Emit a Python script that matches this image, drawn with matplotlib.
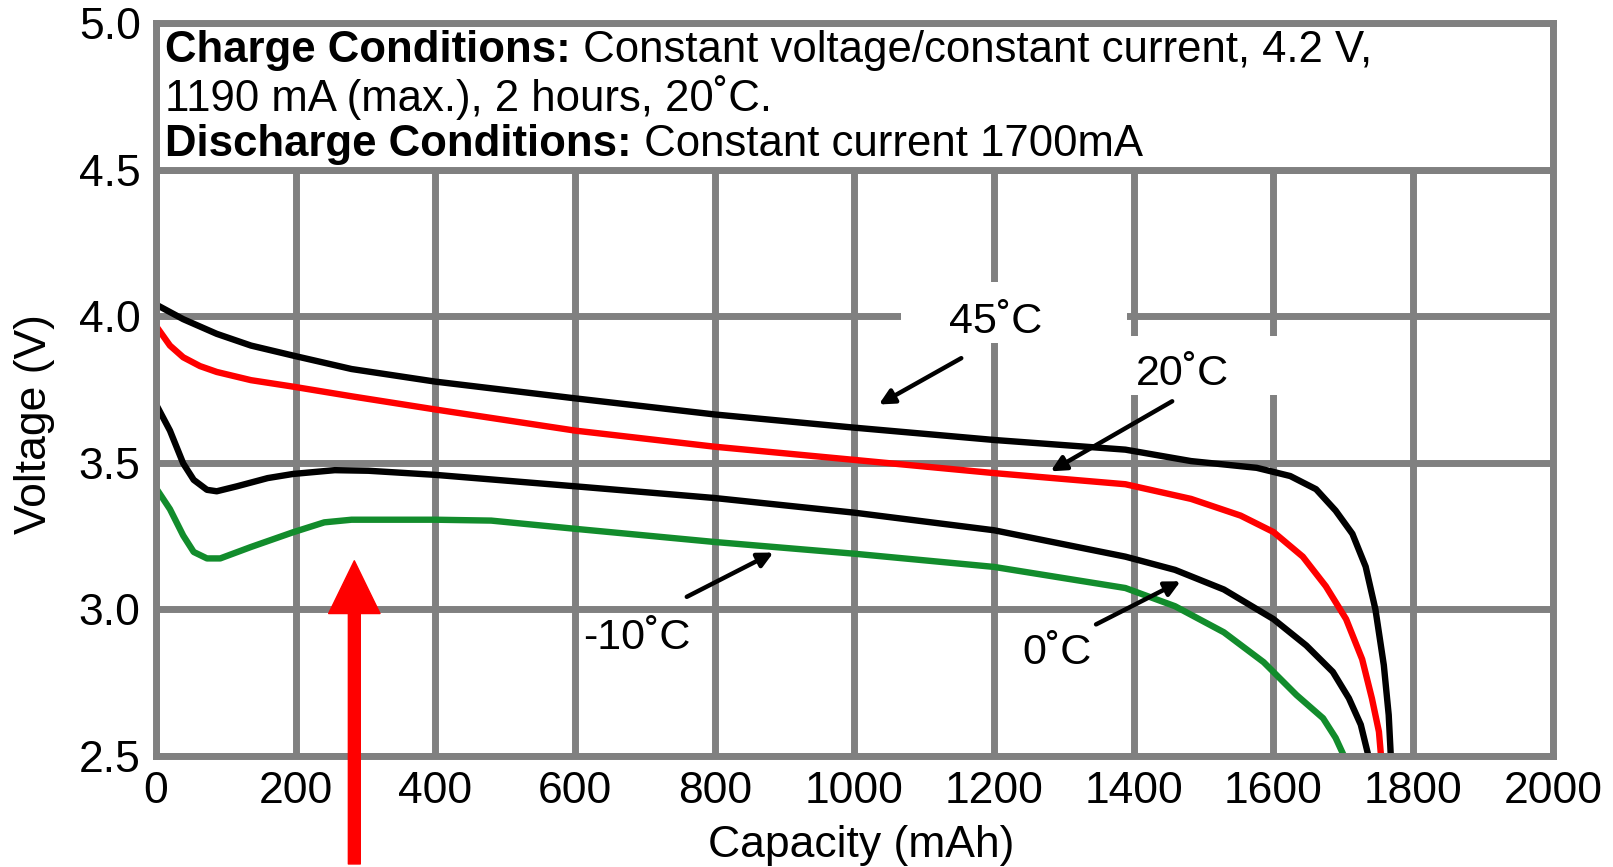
import matplotlib
matplotlib.use("Agg")
import matplotlib.pyplot as plt
from matplotlib.patches import Rectangle

plt.rcParams["font.family"] = ["Liberation Sans", "DejaVu Sans"]

GRID = "#808080"
GREEN = "#128c2c"

# ── Discharge curves: capacity (mAh) vs voltage (V) ───────────────────────────

cap_45 = [0, 39, 87, 136, 196, 280, 400, 600, 800, 1000, 1200, 1388, 1482,
          1576, 1624, 1661, 1689, 1713, 1732, 1746, 1758, 1765, 1768]
v_45 = [4.04, 3.99, 3.94, 3.90, 3.866, 3.82, 3.777, 3.72, 3.665, 3.62, 3.578,
        3.545, 3.506, 3.483, 3.455, 3.41, 3.337, 3.258, 3.146, 3.0, 2.81,
        2.64, 2.50]

cap_20 = [0, 20, 39, 63, 87, 136, 196, 280, 400, 600, 800, 1000, 1200, 1388,
          1482, 1553, 1600, 1642, 1675, 1704, 1727, 1741, 1751, 1754]
v_20 = [3.967, 3.90, 3.86, 3.83, 3.81, 3.782, 3.76, 3.727, 3.682, 3.61, 3.555,
        3.51, 3.465, 3.427, 3.377, 3.32, 3.264, 3.18, 3.079, 2.967, 2.83,
        2.696, 2.583, 2.50]

cap_0 = [0, 20, 39, 54, 73, 87, 116, 160, 196, 256, 304, 400, 600, 800, 1000,
         1200, 1388, 1459, 1529, 1600, 1647, 1685, 1708, 1725, 1736]
v_0 = [3.70, 3.61, 3.498, 3.442, 3.408, 3.403, 3.42, 3.448, 3.462, 3.475,
       3.473, 3.459, 3.42, 3.38, 3.33, 3.27, 3.18, 3.135, 3.068, 2.967, 2.877,
       2.787, 2.697, 2.607, 2.50]

cap_m10 = [0, 20, 39, 54, 73, 92, 136, 196, 241, 280, 400, 480, 600, 800,
           1000, 1200, 1388, 1459, 1529, 1586, 1633, 1671, 1689, 1701]
v_m10 = [3.414, 3.342, 3.252, 3.196, 3.174, 3.174, 3.213, 3.263, 3.297, 3.306,
         3.306, 3.303, 3.275, 3.23, 3.19, 3.145, 3.073, 3.011, 2.922, 2.82,
         2.708, 2.629, 2.562, 2.50]

x_ticks = list(range(0, 2001, 200))
y_ticks = [2.5, 3.0, 3.5, 4.0, 4.5, 5.0]

# labels: text, label position, arrow tail, arrow tip
labels = [
    ("45˚C", (1202, 3.98), (1153, 3.857), (1035, 3.699)),
    ("20˚C", (1470, 3.804), (1455, 3.71), (1281, 3.471)),
    ("-10˚C", (689, 2.903), (760, 3.043), (884, 3.194)),
    ("0˚C", (1290, 2.85), (1346, 2.949), (1467, 3.096)),
]

# ── Figure ─────────────────────────────────────────────────────────────────────

fig = plt.figure(figsize=(16.13, 8.67), dpi=100)
ax = fig.add_axes([0.0967, 0.128, 0.866, 0.8454])

ax.set_xlim(0, 2000)
ax.set_ylim(2.5, 5.0)
ax.set_xticks(x_ticks)
ax.set_yticks(y_ticks)
ax.set_yticklabels([f"{v:.1f}" for v in y_ticks])
ax.tick_params(length=0, labelsize=32, pad=11)
ax.set_axisbelow(True)
ax.grid(True, color=GRID, linewidth=5)
for sp in ax.spines.values():
    sp.set_color(GRID)
    sp.set_linewidth(5)
    sp.set_zorder(6)

ax.set_xlabel("Capacity (mAh)", fontsize=32, va="center")
ax.set_ylabel("Voltage (V)", fontsize=32, va="center")
ax.xaxis.set_label_coords(0.505, -0.122)
ax.yaxis.set_label_coords(-0.087, 0.453)

# header box hides the grid above 4.5 V
ax.add_patch(Rectangle((0, 4.5), 2000, 0.5, facecolor="white",
                       edgecolor=GRID, linewidth=5, zorder=2))
# white patches behind the 45/20 labels
ax.add_patch(Rectangle((1067, 3.909), 324, 0.208, facecolor="white",
                       edgecolor="none", zorder=2))
ax.add_patch(Rectangle((1384, 3.731), 268, 0.201, facecolor="white",
                       edgecolor="none", zorder=2))

for cap, volt, col in [(cap_45, v_45, "black"), (cap_20, v_20, "red"),
                       (cap_0, v_0, "black"), (cap_m10, v_m10, GREEN)]:
    ax.plot(cap, volt, color=col, linewidth=4.6, solid_joinstyle="round",
            solid_capstyle="butt", zorder=3)

for text, pos, tail, tip in labels:
    ax.text(pos[0], pos[1], text, fontsize=31, ha="center", va="center",
            zorder=5)
    ax.annotate("", xy=tip, xytext=tail,
                arrowprops=dict(arrowstyle="-|>,head_length=0.9,head_width=0.45",
                                color="black", linewidth=3.2,
                                shrinkA=0, shrinkB=0), zorder=5)

# header text, bold lead-ins followed by regular text
t1 = ax.text(13, 4.867, "Charge Conditions:", fontsize=31.5, fontweight="bold",
             va="baseline", zorder=5)
ax.annotate(" Constant voltage/constant current, 4.2 V,", xy=(1, 0),
            xycoords=t1, va="bottom", fontsize=31.5, zorder=5)
ax.text(13, 4.70, "1190 mA (max.), 2 hours, 20˚C.", fontsize=31.5,
        va="baseline", zorder=5)
t3 = ax.text(13, 4.546, "Discharge Conditions:", fontsize=31.5,
             fontweight="bold", va="baseline", zorder=5)
ax.annotate(" Constant current 1700mA", xy=(1, 0), xycoords=t3,
            va="bottom", fontsize=31.5, zorder=5)

# big red arrow from below the axis
ax.annotate("", xy=(284, 3.166), xycoords="data",
            xytext=(284, 0.0035), textcoords=("data", "figure fraction"),
            arrowprops=dict(arrowstyle="simple,head_length=38,head_width=37,tail_width=8.6",
                            color="red", mutation_scale=1, shrinkA=0, shrinkB=0),
            annotation_clip=False, zorder=7)

fig.savefig("out.png", dpi=100)
